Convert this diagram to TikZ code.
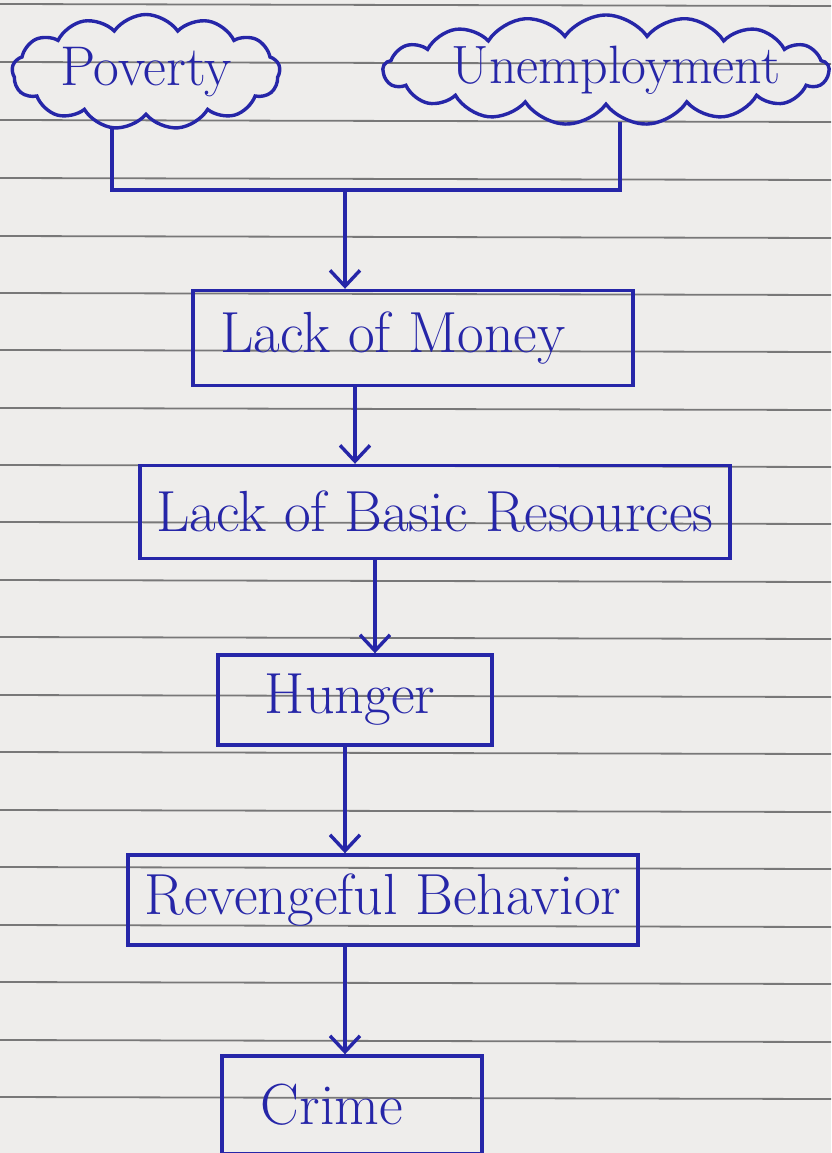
\documentclass[tikz,border=0pt]{standalone}
\usetikzlibrary{shapes.symbols,arrows.meta}
\definecolor{ink}{RGB}{38,38,168}
\definecolor{paper}{RGB}{238,237,235}
\definecolor{rule}{RGB}{120,120,120}
\tikzset{
  every node/.style={text=ink},
  bubble/.style={cloud, cloud puffs=13, cloud puff arc=110, draw=ink, line width=3.4pt, cloud ignores aspect, font=\fontsize{56}{60}\selectfont},
  stepbox/.style={draw=ink, line width=3.4pt, rectangle, font=\fontsize{58}{62}\selectfont},
  link/.style={draw=ink, line width=3.4pt},
  arr/.style={link, -{Straight Barb[length=16pt,width=30pt,line width=3.4pt]}}
}
\begin{document}
\begin{tikzpicture}[x=1pt,y=-1pt]
\useasboundingbox (0,0) rectangle (831,1153);
\fill[paper] (0,0) rectangle (831,1153);
\foreach \yy in {4,62,120,178,236,293,350,408,465,522,580,637,695,752,810,867,925,982,1040,1097}
  \draw[rule, line width=1.8pt] (0,\yy) -- (831,\yy+2);

\node[bubble, minimum width=268pt, minimum height=115pt] (pov) at (146,72) {Poverty};
\node[bubble, minimum width=446pt, minimum height=110pt, cloud puffs=17,
      label={[font=\fontsize{54}{58}\selectfont, xshift=10pt]center:Unemployment}] (une) at (606,70) {};

\node[stepbox, minimum width=440pt, minimum height=95pt] (money) at (413,338) {Lack of Money\hspace*{40pt}};
\node[stepbox, minimum width=590pt, minimum height=93pt] (basic) at (435,512) {Lack of Basic Resources};
\node[stepbox, minimum width=274pt, minimum height=90pt] (hunger) at (355,700) {Hunger\hspace*{10pt}};
\node[stepbox, minimum width=510pt, minimum height=90pt] (reven) at (383,900) {Revengeful Behavior};
\node[stepbox, minimum width=260pt, minimum height=98pt] (crime) at (352,1105) {Crime\hspace*{40pt}};

\coordinate (pb) at (112,126);
\coordinate (ub) at (620,122);
\coordinate (jl) at (112,190);
\coordinate (jr) at (620,190);
\coordinate (jm) at (345,190);
\draw[link] (pb) -- (jl) -- (jr) -- (ub);
\draw[arr] (jm) -- (jm |- money.north);
\draw[arr] (money.south -| 355,0) -- (basic.north -| 355,0);
\draw[arr] (basic.south -| 375,0) -- (hunger.north -| 375,0);
\draw[arr] (hunger.south -| 345,0) -- (reven.north -| 345,0);
\draw[arr] (reven.south -| 345,0) -- (crime.north -| 345,0);
\end{tikzpicture}
\end{document}
